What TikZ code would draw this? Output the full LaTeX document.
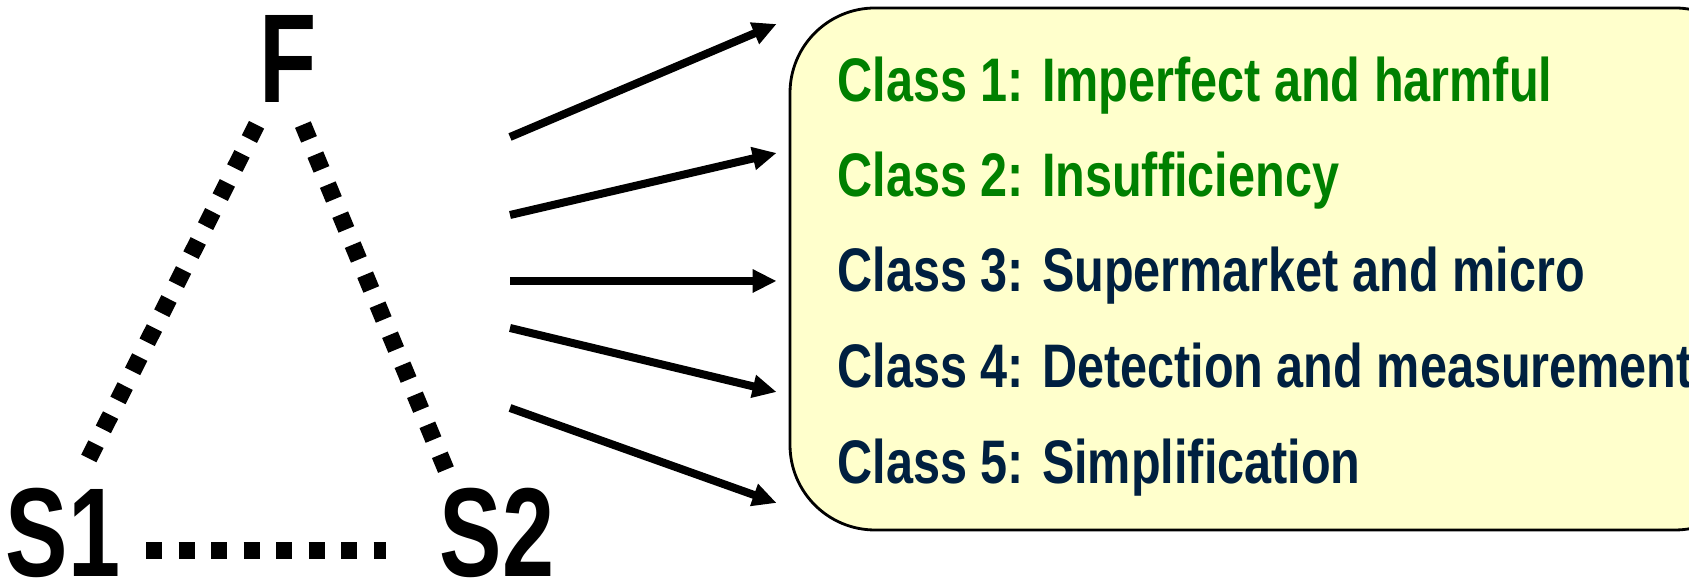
\documentclass[tikz,border=0pt]{standalone}
\usepackage{fontspec}
\setmainfont{Liberation Sans}[FakeStretch=0.79]
\newfontfamily\vertexfont{Liberation Sans}[FakeStretch=0.74]
\usetikzlibrary{arrows.meta}
\definecolor{classgreen}{HTML}{008000}
\definecolor{classnavy}{HTML}{002040}
\definecolor{boxfill}{HTML}{FFFFCC}

\begin{document}
\begin{tikzpicture}[
  vertex/.style={inner sep=0pt, anchor=base, font=\vertexfont\fontsize{36}{42}\selectfont\bfseries},
  dotline/.style={line width=0.17cm, dash pattern=on 0.16cm off 0.165cm},
  fanarrow/.style={line width=0.08cm, -{Triangle[length=2.4mm,width=2.2mm]}},
  classbox/.style={draw, line width=0.8pt, fill=boxfill, rounded corners=0.85cm,
    minimum width=9.7cm, minimum height=5.22cm, inner sep=0pt},
  classline/.style={inner sep=0pt, anchor=base west, font=\fontsize{17.5}{21}\selectfont\bfseries}]

\clip (0,0) rectangle (16.89,5.81);

% triangle of agents
\node[vertex] (F) at (2.88, 4.78) {F};
\node[vertex] (S1) at (0.63, 0.04) {S1};
\node[vertex] (S2) at (4.97, 0.04) {S2};
\draw[dotline] ([shift={(-0.314,-0.218)}]F.base) -- ([shift={(0.244,1.158)}]S1.base); % F-S1
\draw[dotline] ([shift={(0.149,-0.216)}]F.base) -- ([shift={(-0.499,1.046)}]S2.base); % F-S2
\draw[dotline] ([shift={(0.83,0.264)}]S1.base) -- ([shift={(-1.11,0.264)}]S2.base); % S1-S2

% class box
\node[classbox] (classes) at (12.75, 3.12) {};
\node[classline, text=classgreen] (c1) at (8.37, 4.79) {Class 1: Imperfect and harmful};
\node[classline, text=classgreen] (c2) at (8.37, 3.84) {Class 2: Insufficiency};
\node[classline, text=classnavy] (c3) at (8.37, 2.89) {Class 3: Supermarket and micro};
\node[classline, text=classnavy] (c4) at (8.37, 1.93) {Class 4: Detection and measurement};
\node[classline, text=classnavy] (c5) at (8.37, 0.97) {Class 5: Simplification};

% fan of arrows
\foreach \i/\ys/\dy in {1/4.44/2.45, 2/3.66/1.16, 3/3.00/-0.12, 4/2.53/-1.23, 5/1.73/-2.34} {
  \coordinate (src\i) at (5.10, \ys);
  \draw[fanarrow] (src\i) -- ([xshift=-1.2mm, yshift=\dy cm]classes.west);
}

\end{tikzpicture}
\end{document}
